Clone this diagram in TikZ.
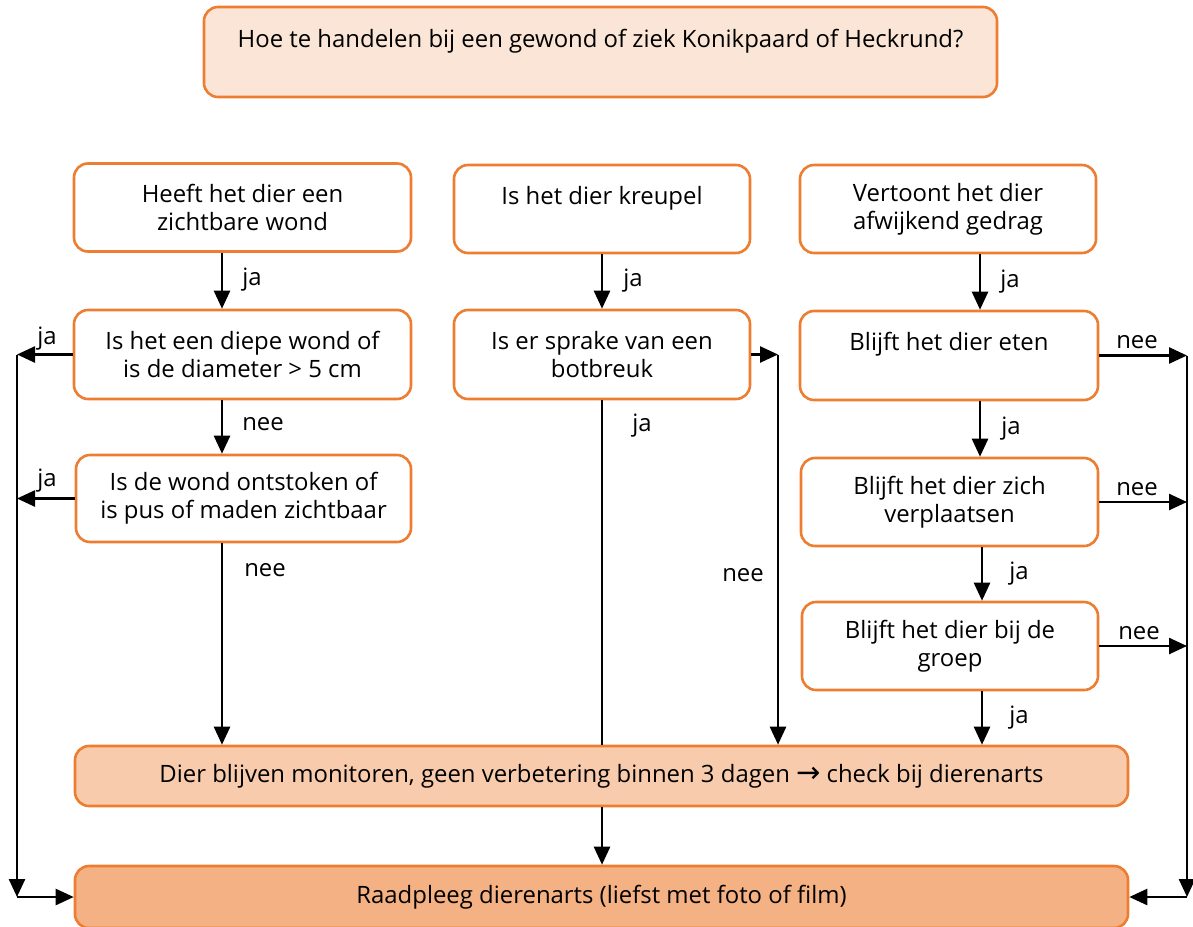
\documentclass[tikz,border=0pt]{standalone}
\usepackage{fontspec}
\setmainfont{Open Sans}
\newfontfamily\dejavu{DejaVu Sans}
\usetikzlibrary{arrows.meta}
\definecolor{oborder}{HTML}{ED7D31}
\definecolor{titlefill}{HTML}{FBE5D6}
\definecolor{monfill}{HTML}{F8CBAD}
\definecolor{finfill}{HTML}{F4B183}
\tikzset{
  box/.style={draw=oborder, line width=2.6pt, rounded corners=14pt, fill=white,
    align=center, inner sep=0pt, font=\fontsize{23.9}{28}\selectfont},
  lbl/.style={anchor=base, inner sep=0pt, font=\fontsize{23.9}{28}\selectfont},
  arr/.style={line width=2.5pt, -{Triangle[length=18pt,width=16pt]}},
  ln/.style={line width=2.5pt}
}
\begin{document}
\begin{tikzpicture}[x=1pt,y=-1pt]
\clip (0,0) rectangle (1193,926);
\fill[white] (0,0) rectangle (1193,926);
% boxes
\node[box, fill=titlefill, minimum width=793pt, minimum height=90pt] (title) at (600.5,52)
  {Hoe te handelen bij een gewond of ziek Konikpaard of Heckrund?\\ \mbox{}};
\node[box, minimum width=337pt, minimum height=88pt] (a1) at (242.5,207.5) {Heeft het dier een\\ zichtbare wond};
\node[box, minimum width=296pt, minimum height=88pt] (b1) at (602,209) {Is het dier kreupel\\ \mbox{}};
\node[box, minimum width=296pt, minimum height=88pt] (c1) at (948,209) {Vertoont het dier\\ afwijkend gedrag};
\node[box, minimum width=337pt, minimum height=89pt] (a2) at (242.5,354.5) {Is het een diepe wond of\\ is de diameter > 5 cm};
\node[box, minimum width=296pt, minimum height=89pt] (b2) at (602,354.5) {Is er sprake van een\\ botbreuk};
\node[box, minimum width=298pt, minimum height=89pt] (c2) at (949,355.5) {Blijft het dier eten\\ \mbox{}};
\node[box, minimum width=335pt, minimum height=87pt] (a3) at (243.5,498.5) {Is de wond ontstoken of\\ is pus of maden zichtbaar};
\node[box, minimum width=297pt, minimum height=88pt] (c3) at (949.5,502) {Blijft het dier zich\\ verplaatsen};
\node[box, minimum width=296pt, minimum height=88pt] (c4) at (950,646) {Blijft het dier bij de\\ groep};
\node[box, fill=monfill, minimum width=1053pt, minimum height=60pt] (mon) at (601.5,776)
  {Dier blijven monitoren, geen verbetering binnen 3 dagen {\dejavu\fontsize{29}{29}\selectfont →} check bij dierenarts};
\node[box, fill=finfill, minimum width=1053pt, minimum height=62pt] (fin) at (601.5,897)
  {Raadpleeg dierenarts (liefst met foto of film)};
% helper coordinates
\coordinate (xa) at (222,0);
\coordinate (xb) at (602,0);
\coordinate (xc) at (980,0);
\coordinate (xd) at (982,0);
\coordinate (xm) at (778,0);
\coordinate (L) at (17,897);
\coordinate (R) at (1187,897);
% column A
\draw[arr] (a1.south -| xa) -- (a2.north -| xa);
\draw[arr] (a2.south -| xa) -- (a3.north -| xa);
\draw[arr] (a3.south -| xa) -- (mon.north -| xa);
\draw[arr] (a2.west) -- (a2.west -| L);
\draw[arr] (a3.west) -- (a3.west -| L);
\draw[arr] (a2.west -| L) -- (L);
\draw[arr] (L) -- (fin.west);
% column B
\draw[arr] (b1.south) -- (b2.north);
\draw[ln] (b2.south) -- (mon.north -| b2.south);
\draw[arr] (b2.east) -- (b2.east -| xm);
\draw[arr] (b2.east -| xm) -- (mon.north -| xm);
\draw[arr] (mon.south -| xb) -- (fin.north -| xb);
% column C
\draw[arr] (c1.south -| xc) -- (c2.north -| xc);
\draw[arr] (c2.south -| xc) -- (c3.north -| xc);
\draw[arr] (c3.south -| xd) -- (c4.north -| xd);
\draw[arr] (c4.south -| xd) -- (mon.north -| xd);
\draw[arr] (c2.east) -- (c2.east -| R);
\draw[arr] (c3.east) -- (c3.east -| R);
\draw[arr] (c4.east) -- (c4.east -| R);
\draw[arr] (c2.east -| R) -- (R);
\draw[arr] (R) -- (fin.east);
% labels
\node[lbl] (l1) at (252,285) {ja};
\node[lbl] (l2) at (263,430) {nee};
\node[lbl] (l3) at (265,576) {nee};
\node[lbl] (l4) at (47,344) {ja};
\node[lbl] (l5) at (47,486) {ja};
\node[lbl] (l6) at (633,286) {ja};
\node[lbl] (l7) at (642,431) {ja};
\node[lbl] (l8) at (743,581) {nee};
\node[lbl] (l9) at (1010,287) {ja};
\node[lbl] (l10) at (1011,434) {ja};
\node[lbl] (l11) at (1019,579) {ja};
\node[lbl] (l12) at (1019,723) {ja};
\node[lbl] (l13) at (1137,348) {nee};
\node[lbl] (l14) at (1137,495) {nee};
\node[lbl] (l15) at (1139,639) {nee};
\end{tikzpicture}
\end{document}
